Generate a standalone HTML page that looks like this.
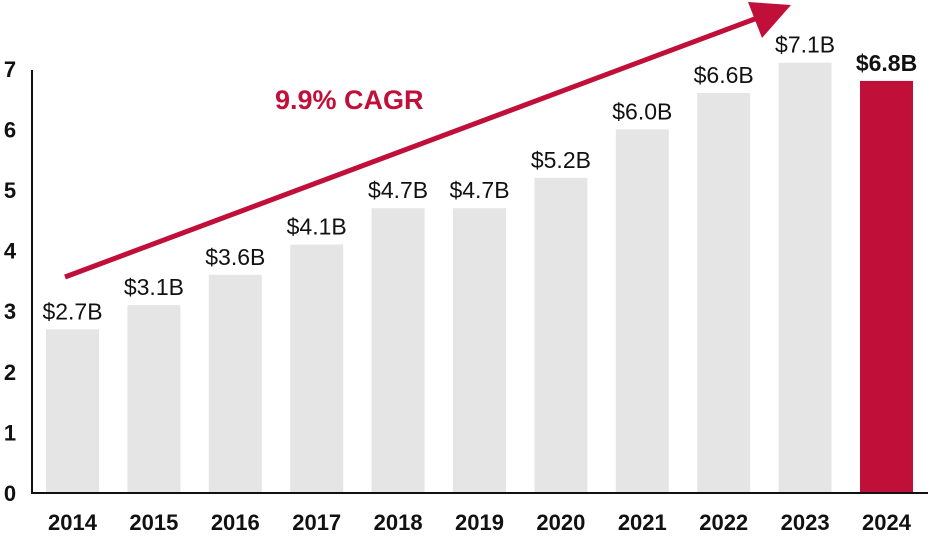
<!DOCTYPE html>
<html><head><meta charset="utf-8"><style>
html,body{margin:0;padding:0;background:#fff;width:928px;height:540px;overflow:hidden}
svg{display:block;font-family:"Liberation Sans",sans-serif}
</style></head><body>
<svg id="chart" width="928" height="540"></svg>
<script>
const categories=["2014","2015","2016","2017","2018","2019","2020","2021","2022","2023","2024"];
const values=[2.7,3.1,3.6,4.1,4.7,4.7,5.2,6.0,6.6,7.1,6.8];
const valueLabels=["$2.7B","$3.1B","$3.6B","$4.1B","$4.7B","$4.7B","$5.2B","$6.0B","$6.6B","$7.1B","$6.8B"];
const yTicks=[0,1,2,3,4,5,6,7];
const NS="http://www.w3.org/2000/svg";
const svg=document.getElementById('chart');
const y0=493,unit=60.6;
function yS(v){return y0-v*unit;}
function xC(i){return 72.5+i*81.4;}
function el(t,a,txt){const e=document.createElementNS(NS,t);for(const k in a)e.setAttribute(k,a[k]);if(txt!=null)e.textContent=txt;svg.appendChild(e);return e;}
yTicks.forEach(t=>{
 const e=el('text',{x:10,y:yS(t)+8,'font-size':22,'font-weight':'bold','text-anchor':'middle',fill:'#111'},String(t));
 
 
});
categories.forEach((c,i)=>{
 const last=i===categories.length-1;
 const r=el('rect',{x:xC(i)-26.5,y:yS(values[i]),width:53,height:values[i]*unit,fill:last?'#c0103a':'#e5e5e6'});
 
 
 const v=el('text',{x:xC(i),y:yS(values[i])-10,'font-size':23,'font-weight':last?'bold':'normal','text-anchor':'middle',fill:'#111'},valueLabels[i]);
 
 
 const l=el('text',{x:xC(i),y:530,'font-size':22,'font-weight':'bold','text-anchor':'middle',fill:'#111'},c);
 
 
});
const ax=el('line',{x1:32,y1:70,x2:32,y2:493,stroke:'#111','stroke-width':2});


const bx=el('line',{x1:31,y1:493,x2:928,y2:493,stroke:'#111','stroke-width':2});


const ar=el('line',{x1:65,y1:277,x2:760,y2:17,stroke:'#c0103a','stroke-width':5});


const ah=el('polygon',{points:'791,5 748,2 762,38',fill:'#c0103a'});


const ct=el('text',{x:275,y:109,'font-size':27,'font-weight':'bold',fill:'#c0103a'},'9.9% CAGR');


</script>
</body></html>
